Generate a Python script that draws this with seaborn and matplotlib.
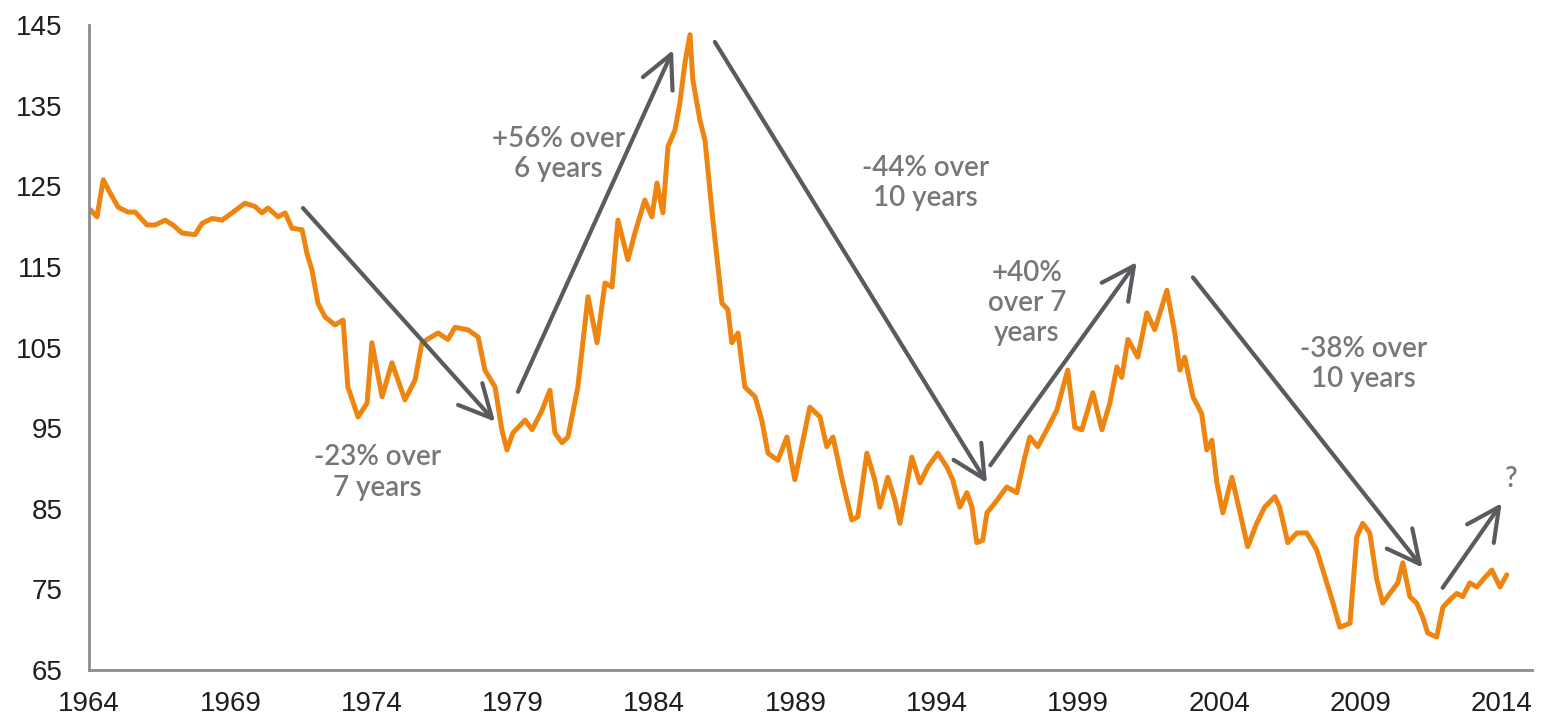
import matplotlib
matplotlib.use("Agg")
import matplotlib.pyplot as plt
import pandas as pd
import seaborn as sns

years = [
    1964.04, 1964.28, 1964.50, 1964.74, 1965.03, 1965.38, 1965.63, 1966.05, 1966.34, 1966.69,
    1966.97, 1967.29, 1967.75, 1968.00, 1968.35, 1968.71, 1969.06, 1969.52, 1969.87, 1970.12,
    1970.33, 1970.69, 1970.94, 1971.18, 1971.54, 1971.71, 1971.89, 1972.10, 1972.35, 1972.70,
    1972.99, 1973.16, 1973.52, 1973.84, 1974.01, 1974.37, 1974.72, 1975.18, 1975.54, 1975.78,
    1976.35, 1976.70, 1976.95, 1977.41, 1977.77, 1978.01, 1978.37, 1978.61, 1978.79, 1979.00,
    1979.43, 1979.68, 1980.03, 1980.31, 1980.49, 1980.74, 1980.95, 1981.30, 1981.66, 1981.98,
    1982.26, 1982.51, 1982.72, 1983.07, 1983.32, 1983.67, 1983.92, 1984.10, 1984.31, 1984.49,
    1984.74, 1984.91, 1985.09, 1985.27, 1985.37, 1985.62, 1985.80, 1986.08, 1986.40, 1986.61,
    1986.75, 1986.97, 1987.21, 1987.57, 1987.81, 1988.03, 1988.38, 1988.70, 1988.98, 1989.51,
    1989.87, 1990.11, 1990.33, 1990.68, 1991.00, 1991.21, 1991.53, 1991.81, 1991.99, 1992.27,
    1992.52, 1992.70, 1993.12, 1993.41, 1993.69, 1994.04, 1994.36, 1994.57, 1994.82, 1995.07,
    1995.25, 1995.42, 1995.63, 1995.78, 1996.06, 1996.48, 1996.84, 1997.12, 1997.30, 1997.58,
    1997.90, 1998.25, 1998.64, 1998.89, 1999.14, 1999.53, 1999.85, 2000.13, 2000.38, 2000.55,
    2000.77, 2001.12, 2001.44, 2001.72, 2002.15, 2002.43, 2002.61, 2002.78, 2003.07, 2003.38,
    2003.56, 2003.74, 2003.92, 2004.13, 2004.45, 2004.66, 2005.01, 2005.33, 2005.61, 2005.97,
    2006.14, 2006.43, 2006.75, 2007.10, 2007.45, 2007.81, 2008.03, 2008.27, 2008.63, 2008.87,
    2009.08, 2009.33, 2009.58, 2009.79, 2010.04, 2010.32, 2010.50, 2010.75, 2010.99, 2011.20,
    2011.38, 2011.70, 2011.92, 2012.16, 2012.41, 2012.62, 2012.87, 2013.12, 2013.41, 2013.65,
    2013.94, 2014.18,
]
index_values = [
    122.1, 121.2, 125.8, 124.2, 122.4, 121.8, 121.8, 120.2, 120.2, 120.8,
    120.2, 119.2, 119.0, 120.4, 121.0, 120.8, 121.7, 122.9, 122.5, 121.7,
    122.3, 121.2, 121.7, 119.8, 119.6, 116.7, 114.6, 110.5, 108.8, 107.8,
    108.4, 100.1, 96.4, 98.1, 105.6, 98.9, 103.1, 98.5, 101.0, 105.6,
    106.8, 106.0, 107.5, 107.2, 106.3, 102.2, 100.1, 94.8, 92.3, 94.4,
    96.0, 94.8, 97.2, 99.7, 94.4, 93.2, 93.9, 100.1, 111.3, 105.6,
    113.0, 112.5, 120.8, 115.9, 119.2, 123.3, 121.2, 125.4, 121.7, 129.9,
    132.0, 135.3, 140.3, 143.8, 138.2, 133.2, 130.7, 120.8, 110.5, 109.7,
    105.6, 106.8, 100.1, 98.9, 96.0, 91.9, 91.0, 93.9, 88.6, 97.6,
    96.4, 92.7, 93.9, 88.2, 83.6, 84.0, 91.9, 88.6, 85.2, 88.9,
    86.1, 83.2, 91.4, 88.2, 90.2, 91.9, 90.2, 88.6, 85.2, 87.0,
    85.2, 80.8, 81.1, 84.5, 85.7, 87.7, 87.0, 91.4, 93.9, 92.7,
    94.8, 97.2, 102.2, 95.1, 94.8, 99.4, 94.8, 98.1, 102.6, 101.3,
    106.0, 103.8, 109.3, 107.2, 112.1, 106.8, 102.2, 103.8, 98.9, 96.8,
    92.3, 93.5, 88.2, 84.5, 88.9, 85.7, 80.3, 83.2, 85.2, 86.5,
    85.2, 80.8, 82.0, 82.0, 79.9, 75.8, 73.3, 70.3, 70.8, 81.5,
    83.2, 82.0, 76.2, 73.3, 74.5, 75.8, 78.3, 74.1, 73.3, 71.6,
    69.6, 69.1, 72.8, 73.7, 74.5, 74.1, 75.8, 75.3, 76.5, 77.4,
    75.3, 76.8,
]

tick_years = [1964, 1969, 1974, 1979, 1984, 1989, 1994, 1999, 2004, 2009, 2014]
tick_values = [65, 75, 85, 95, 105, 115, 125, 135, 145]

# Trend arrows: (start year, start level) -> (end year, end level)
trend_arrows = [
    ((1971.57, 122.3), (1978.37, 95.8)),
    ((1979.18, 99.5), (1984.67, 141.9)),
    ((1986.15, 142.9), (1995.78, 88.2)),
    ((1995.90, 90.4), (2001.08, 115.6)),
    ((2003.07, 113.7), (2011.20, 77.7)),
    ((2011.91, 75.2), (2014.00, 85.7)),
]
# Labels for each move, placed at (year, level)
trend_labels = [
    ("-23% over\n7 years", 1974.2, 89.5),
    ("+56% over\n6 years", 1980.6, 129.0),
    ("-44% over\n10 years", 1993.6, 125.4),
    ("+40%\nover 7\nyears", 1997.2, 110.5),
    ("-38% over\n10 years", 2009.1, 103.0),
    ("?", 2014.35, 88.7),
]

df = pd.DataFrame({"year": years, "index": index_values})

sns.set_theme(style="white")
plt.rcParams["font.family"] = ["Liberation Sans", "DejaVu Sans"]

fig = plt.figure(figsize=(15.44, 7.21), dpi=100)
ax = fig.add_axes([0.0577, 0.0707, 0.9343, 0.8946])

sns.lineplot(data=df, x="year", y="index", ax=ax, color="#EE8511",
             linewidth=3.6, solid_joinstyle="round")

for (x0, y0), (x1, y1) in trend_arrows:
    ax.annotate("", xy=(x1, y1), xytext=(x0, y0),
                arrowprops=dict(arrowstyle="->,head_length=0.9,head_width=0.45",
                                color="#5b5b5f", lw=3.0, mutation_scale=26,
                                shrinkA=0, shrinkB=0))

for text, x, y in trend_labels:
    ax.text(x, y, text, ha="center", va="center", fontsize=20,
            color="#777777", family=["Lato", "DejaVu Sans"], fontweight="semibold",
            linespacing=1.2)

ax.set_xlim(1964, 2015.06)
ax.set_ylim(65, 145)
ax.set_xticks(tick_years)
ax.set_xticklabels([str(t) for t in tick_years])
ax.set_yticks(tick_values)
ax.set_yticklabels([str(t) for t in tick_values])
ax.set_xlabel("")
ax.set_ylabel("")

for side in ("top", "right"):
    ax.spines[side].set_visible(False)
for side in ("left", "bottom"):
    ax.spines[side].set_color("#8c8c8c")
    ax.spines[side].set_linewidth(2.0)

ax.tick_params(axis="both", length=0, labelsize=20, labelcolor="#1e1e1e")
ax.tick_params(axis="y", pad=19)
ax.tick_params(axis="x", pad=15)

fig.savefig("out.png", dpi=100, facecolor="white")
